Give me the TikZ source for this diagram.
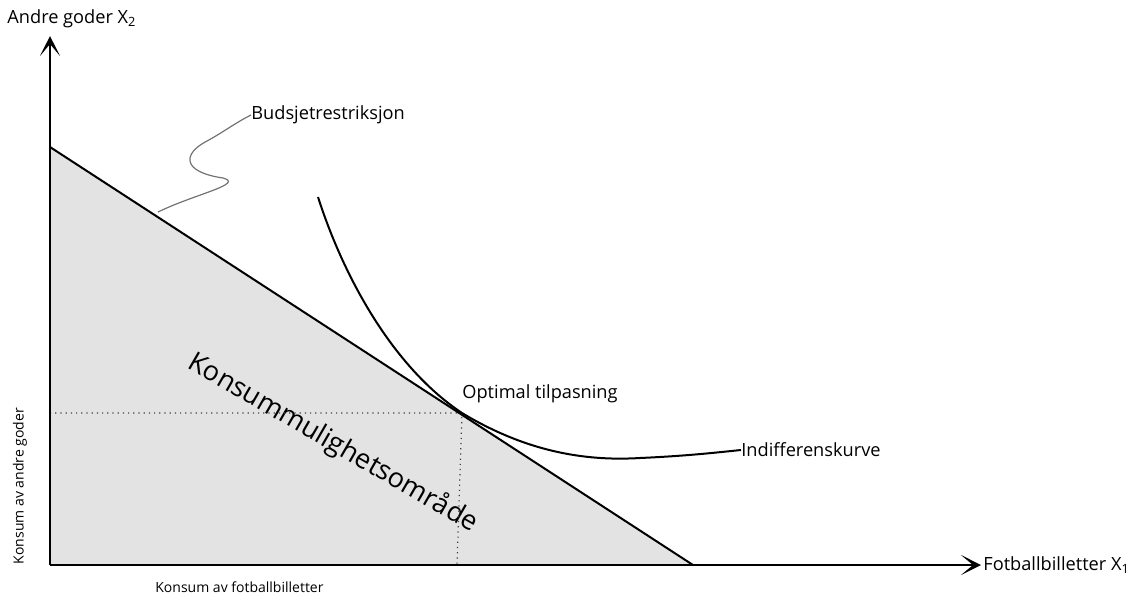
\documentclass[tikz,border=0pt]{standalone}
\usepackage{fontspec}
\setmainfont{Open Sans}
\usetikzlibrary{arrows.meta}

\begin{document}
\begin{tikzpicture}[
      x=0.5pt,y=-0.5pt,
      font=\fontsize{9.1}{10}\selectfont,
      axis/.style={line width=1.4pt,-{Stealth[length=10pt,width=10pt,inset=6pt]}},
      budget/.style={line width=1pt},
      indiff/.style={line width=1pt},
      guide/.style={dotted,line width=0.6pt,black!75},
      leader/.style={black!55,line width=0.6pt},
      label/.style={inner sep=0pt,anchor=west},
      ]

    % Frame
    \useasboundingbox (0,0) rectangle (1137,596);

    % Position the points
    \coordinate (origin) at (50,565);
    \coordinate (ytop) at (50,36);
    \coordinate (xend) at (981,565);
    \coordinate (bmax) at (50,147);
    \coordinate (xmax) at (693,565);
    \coordinate (opt) at (462,413);
    \coordinate (optx) at (457,565);
    \coordinate (opty) at (50,413);
    \coordinate (bfoot) at (158,212);

    % Shaded area
    \fill[black!11] (origin) -- (bmax) -- (xmax) -- cycle;

    % Labels
    \node[label] (ylab) at (7,19) {Andre goder X\textsubscript{2}};
    \node[label] (xlab) at (983,565) {Fotballbilletter X\textsubscript{1}};
    \node[label] (blab) at (251,115) {Budsjetrestriksjon};
    \node[label] (olab) at (462,394) {Optimal tilpasning};
    \node[label] (ilab) at (741,450) {Indifferenskurve};
    \node[label,font=\fontsize{7}{8}\selectfont] (xcons) at (155,587) {Konsum av fotballbilletter};
    \node[inner sep=0pt,rotate=90,font=\fontsize{7}{8}\selectfont] (ycons) at (20,486) {Konsum av andre goder};
    \node[inner sep=0pt,rotate=-30,font=\fontsize{13.6}{16}\selectfont] (area) at (333,443) {Konsummulighetsområde};

    % Draw the lines
    \draw[guide] (opty) -- (opt) -- (optx);
    \draw[budget] (bmax) -- (xmax);
    \draw[indiff] (318,197) .. controls (342,272) and (390,365) .. (opt)
      .. controls (530,454) and (590,461) .. (640,458)
      .. controls (685,456) and (712,453) .. (ilab.west);
    \draw[leader] (bfoot) .. controls (195,194) and (245,184) .. (223,178)
      .. controls (182,172) and (182,154) .. (207,141)
      .. controls (222,133) and (235,123) .. (blab.west);

    % Axes
    \path[axis] (origin) edge (ytop);
    \path[axis] (origin) edge (xend);

  \end{tikzpicture}
\end{document}
